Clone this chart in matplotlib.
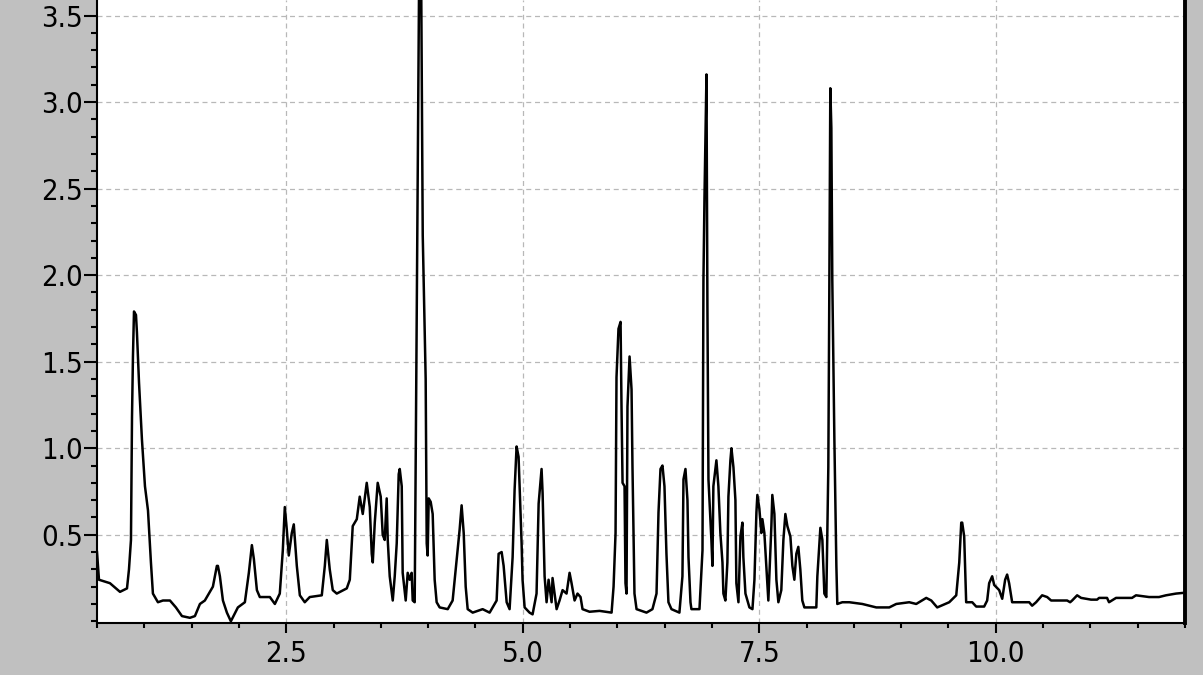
from matplotlib import pyplot as plt
from matplotlib.ticker import MultipleLocator, FormatStrFormatter
import numpy as np

# retention time (min) and detector signal
time_min = [
    0.500, 0.521, 0.637, 0.743, 0.817, 0.838, 0.859, 0.870, 0.880, 0.891, 0.912, 0.922, 0.944, 0.975, 1.007, 1.039, 1.070, 1.091, 1.144, 1.197, 1.271, 1.334, 1.398, 1.482, 1.535, 1.588,
    1.640, 1.725, 1.767, 1.778, 1.799, 1.831, 1.873, 1.915, 1.989, 2.063, 2.105, 2.137, 2.158, 2.190, 2.221, 2.327, 2.380, 2.432, 2.464, 2.485, 2.506, 2.527, 2.559, 2.580, 2.612, 2.644, 2.696, 2.749, 2.876, 2.908, 2.929, 2.960, 2.992, 3.034,
    3.140, 3.172, 3.203, 3.246, 3.277, 3.309, 3.351, 3.383, 3.404, 3.415, 3.436, 3.467, 3.499, 3.520, 3.541, 3.562, 3.573, 3.594, 3.626, 3.647, 3.668, 3.689, 3.700, 3.721, 3.731, 3.763, 3.784, 3.805, 3.826, 3.837, 3.858, 3.869, 3.890, 3.911, 3.921, 3.943, 3.974, 3.985, 3.995, 4.006, 4.027, 4.048, 4.069, 4.090, 4.122,
    4.207, 4.259, 4.302, 4.333, 4.354, 4.376, 4.397, 4.418, 4.471, 4.576, 4.650, 4.724, 4.745, 4.777, 4.798, 4.830, 4.861, 4.893, 4.914, 4.935, 4.956, 4.988, 4.998, 5.020,
    5.072, 5.104, 5.146, 5.168, 5.199, 5.210, 5.231, 5.252, 5.273, 5.305, 5.315, 5.336, 5.358, 5.389, 5.421, 5.463, 5.495, 5.516, 5.548, 5.579, 5.611, 5.632, 5.706, 5.812, 5.939,
    5.960, 5.981, 5.991, 6.012, 6.034, 6.044, 6.055, 6.076, 6.086, 6.097, 6.107, 6.129, 6.150, 6.160, 6.181, 6.203, 6.308, 6.371, 6.414, 6.435, 6.456, 6.477, 6.498, 6.519, 6.540, 6.572, 6.656, 6.688, 6.699, 6.720, 6.741, 6.752, 6.773, 6.783, 6.868,
    6.900, 6.910, 6.921, 6.942, 6.952, 6.963, 6.994, 7.005, 7.015, 7.036, 7.047, 7.068, 7.089, 7.111, 7.121, 7.142, 7.163, 7.174, 7.195, 7.206, 7.227, 7.248, 7.258, 7.280, 7.301, 7.322, 7.332, 7.354, 7.396, 7.428,
    7.449, 7.470, 7.480, 7.501, 7.522, 7.533, 7.554, 7.575, 7.596, 7.628, 7.638, 7.660, 7.681, 7.702, 7.733, 7.755, 7.776, 7.797, 7.829, 7.850, 7.871, 7.892, 7.913, 7.934, 7.955, 7.977,
    8.103, 8.114, 8.146, 8.167, 8.188, 8.209, 8.230, 8.241, 8.251, 8.262, 8.272, 8.294, 8.315, 8.325, 8.378, 8.452, 8.589, 8.737, 8.874, 8.948,
    9.085, 9.159, 9.265, 9.318, 9.381, 9.508, 9.582, 9.614, 9.635, 9.645, 9.666, 9.687, 9.751, 9.793, 9.877, 9.909, 9.930, 9.962, 9.983, 10.036,
    10.068, 10.099, 10.120, 10.141, 10.173, 10.215, 10.353, 10.384, 10.426, 10.490, 10.543, 10.585, 10.754, 10.786, 10.807, 10.860, 10.902, 11.007, 11.071, 11.092,
    11.176, 11.197, 11.271, 11.440, 11.482, 11.620, 11.725, 11.799, 11.905, 12.000,
]
signal = [
    0.40, 0.24, 0.22, 0.17, 0.19, 0.30, 0.47, 1.18, 1.53, 1.79, 1.77, 1.67, 1.38, 1.05, 0.78, 0.64, 0.34, 0.16, 0.11, 0.12, 0.12, 0.08, 0.03, 0.02, 0.03, 0.10,
    0.12, 0.20, 0.32, 0.32, 0.26, 0.12, 0.05, 0.00, 0.08, 0.11, 0.28, 0.44, 0.36, 0.18, 0.14, 0.14, 0.10, 0.16, 0.41, 0.66, 0.53, 0.38, 0.51, 0.56, 0.32, 0.15, 0.11, 0.14, 0.15, 0.32, 0.47, 0.30, 0.18, 0.16,
    0.19, 0.24, 0.55, 0.59, 0.72, 0.62, 0.80, 0.66, 0.39, 0.34, 0.57, 0.80, 0.72, 0.50, 0.47, 0.71, 0.47, 0.26, 0.12, 0.26, 0.45, 0.85, 0.88, 0.78, 0.28, 0.12, 0.28, 0.24, 0.28, 0.12, 0.11, 0.97, 2.59, 4.20, 4.20, 2.23, 1.40, 0.45, 0.38, 0.71, 0.69, 0.62, 0.24, 0.11, 0.08,
    0.07, 0.12, 0.36, 0.53, 0.67, 0.51, 0.20, 0.07, 0.05, 0.07, 0.05, 0.12, 0.39, 0.40, 0.32, 0.11, 0.07, 0.37, 0.76, 1.01, 0.95, 0.45, 0.24, 0.08,
    0.05, 0.04, 0.16, 0.68, 0.88, 0.74, 0.26, 0.11, 0.24, 0.11, 0.25, 0.16, 0.07, 0.12, 0.18, 0.16, 0.28, 0.22, 0.12, 0.16, 0.14, 0.07, 0.055, 0.06, 0.05,
    0.20, 0.51, 1.41, 1.69, 1.73, 1.24, 0.80, 0.78, 0.22, 0.16, 1.24, 1.53, 1.34, 0.89, 0.16, 0.07, 0.05, 0.07, 0.16, 0.63, 0.88, 0.90, 0.78, 0.39, 0.11, 0.07, 0.05, 0.26, 0.82, 0.88, 0.70, 0.37, 0.11, 0.07, 0.07,
    0.41, 1.97, 2.45, 3.16, 1.82, 0.82, 0.47, 0.32, 0.78, 0.88, 0.93, 0.78, 0.51, 0.34, 0.16, 0.12, 0.34, 0.72, 0.93, 1.00, 0.89, 0.70, 0.22, 0.11, 0.49, 0.57, 0.37, 0.16, 0.08, 0.07,
    0.24, 0.63, 0.73, 0.65, 0.51, 0.59, 0.51, 0.32, 0.12, 0.55, 0.73, 0.62, 0.24, 0.11, 0.18, 0.47, 0.62, 0.55, 0.49, 0.32, 0.24, 0.39, 0.43, 0.30, 0.12, 0.08,
    0.08, 0.26, 0.54, 0.47, 0.16, 0.14, 0.89, 1.97, 3.08, 2.85, 1.97, 1.05, 0.32, 0.10, 0.11, 0.11, 0.10, 0.08, 0.08, 0.10,
    0.11, 0.10, 0.135, 0.12, 0.08, 0.11, 0.15, 0.34, 0.57, 0.57, 0.49, 0.11, 0.11, 0.085, 0.085, 0.12, 0.22, 0.26, 0.21, 0.18,
    0.13, 0.24, 0.27, 0.22, 0.11, 0.11, 0.11, 0.09, 0.11, 0.15, 0.14, 0.12, 0.12, 0.11, 0.12, 0.15, 0.135, 0.125, 0.125, 0.135,
    0.135, 0.11, 0.135, 0.135, 0.15, 0.14, 0.14, 0.15, 0.16, 0.165,
]
assert len(time_min) == len(signal)

x_major = [2.5, 5.0, 7.5, 10.0]
y_major = [0.5, 1.0, 1.5, 2.0, 2.5, 3.0, 3.5]

fig = plt.figure(figsize=(12.03, 6.75), dpi=100, facecolor='#c0c0c0')
ax = fig.add_axes([97 / 1203, 52 / 675, (1185 - 97) / 1203, 623 / 675])
ax.set_facecolor('white')

ax.plot(np.array(time_min), np.array(signal), color='black', lw=1.8)

ax.set_xlim(0.5, 12.0)
ax.set_ylim(-0.01, 3.59)

ax.set_xticks(x_major)
ax.set_yticks(y_major)
ax.xaxis.set_minor_locator(MultipleLocator(0.5))
ax.yaxis.set_minor_locator(MultipleLocator(0.1))
ax.xaxis.set_major_formatter(FormatStrFormatter('%.1f'))
ax.yaxis.set_major_formatter(FormatStrFormatter('%.1f'))

ax.grid(True, which='major', color='#b8b8b8', ls=(0, (4, 3)), lw=0.9)

ax.tick_params(axis='y', which='major', length=9.5, width=1.5, pad=0.5, direction='out')
ax.tick_params(axis='y', which='minor', length=4, width=1.5, direction='out')
ax.tick_params(axis='x', which='major', length=7, width=1.5, pad=5, direction='out')
ax.tick_params(axis='x', which='minor', length=3.5, width=1.5, direction='out')
for lab in ax.get_xticklabels() + ax.get_yticklabels():
    lab.set_fontfamily('DejaVu Sans')
    lab.set_fontstretch('condensed')
    lab.set_fontsize(21)

ax.spines['top'].set_visible(False)
ax.spines['left'].set_linewidth(1.5)
ax.spines['bottom'].set_linewidth(1.5)
ax.spines['right'].set_linewidth(2.8)
for s in ax.spines.values():
    s.set_color('black')

fig.savefig('out.png', dpi=100, facecolor=fig.get_facecolor())
